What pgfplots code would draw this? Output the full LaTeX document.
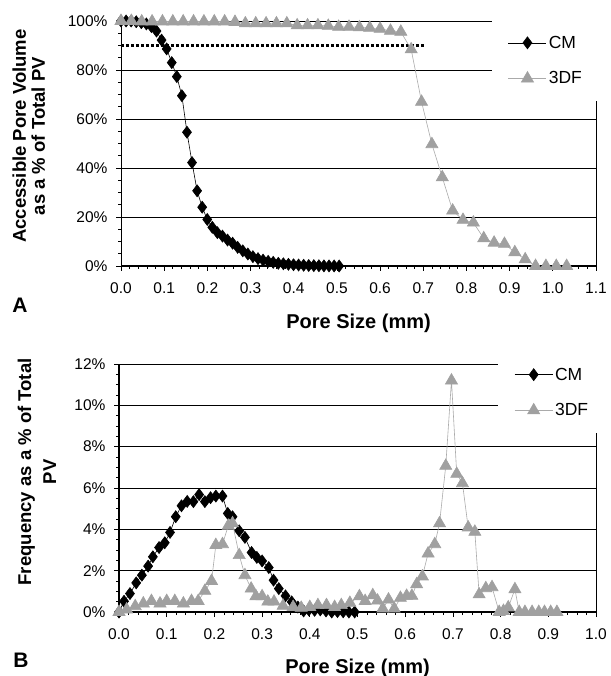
\documentclass[border=0pt]{standalone}
\usepackage{fontspec}
\setmainfont{Liberation Sans}
\usepackage{pgfplots}
\pgfplotsset{compat=1.18}
\definecolor{tri}{RGB}{160,160,160}
\definecolor{triline}{RGB}{170,170,170}

\pgfplotstableread{
x y
0 100
0.01175 100
0.0235 100
0.03525 99.7
0.047 99.3
0.05875 98.8
0.0705 97.7
0.08225 95.9
0.094 92.2
0.10575 88.6
0.1175 83.0
0.12925 77.3
0.141 69.5
0.15275 54.6
0.1645 42.2
0.17625 30.7
0.188 24.0
0.19975 19.0
0.2115 15.8
0.22325 13.6
0.235 12.2
0.24675 10.6
0.2585 9.3
0.27025 7.6
0.282 6.2
0.29375 4.9
0.3055 3.8
0.31725 3.0
0.329 2.4
0.34075 1.9
0.3525 1.5
0.36425 1.1
0.376 0.9
0.38775 0.7
0.3995 0.5
0.41125 0.4
0.423 0.3
0.43475 0.2
0.4465 0.15
0.45825 0.1
0.47 0.05
0.48175 0.03
0.4935 0.01
0.50525 0
}\cmA

\pgfplotstableread{
x y
0 100
0.024 100
0.048 99.8
0.072 99.8
0.096 99.8
0.12 99.8
0.144 99.8
0.168 99.8
0.192 99.8
0.216 99.8
0.24 99.8
0.264 99.6
0.288 99.0
0.312 99.0
0.336 99.0
0.36 99.0
0.384 99.0
0.408 98.2
0.432 98.2
0.456 98.2
0.48 98.0
0.504 97.6
0.528 97.6
0.552 97.4
0.576 97.2
0.6 96.8
0.624 96.0
0.648 95.6
0.672 88.4
0.696 67.0
0.72 49.7
0.744 36.2
0.768 22.6
0.792 18.8
0.816 17.7
0.84 11.3
0.864 9.5
0.888 9.0
0.912 5.6
0.936 2.7
0.96 0
0.984 0
1.008 0
1.032 0
}\dfA

\pgfplotstableread{
x y
0 0
0.0105 0.52
0.023 0.89
0.036 1.41
0.048 1.78
0.061 2.22
0.071 2.67
0.084 3.12
0.096 3.35
0.107 3.85
0.119 4.61
0.131 5.14
0.143 5.35
0.156 5.34
0.168 5.68
0.180 5.34
0.192 5.53
0.203 5.61
0.217 5.61
0.228 4.77
0.238 4.61
0.252 3.93
0.264 3.61
0.278 2.88
0.289 2.64
0.300 2.47
0.314 2.15
0.324 1.54
0.335 1.13
0.349 0.78
0.362 0.49
0.375 0.24
0.387 0.05
0.398 0.10
0.410 0.08
0.422 0.10
0.434 0.05
0.446 0
0.458 0.02
0.470 0.01
0.482 0
0.494 0
}\cmB

\pgfplotstableread{
x y
0 0
0.016 0.12
0.034 0.28
0.051 0.41
0.068 0.53
0.086 0.41
0.100 0.53
0.117 0.53
0.135 0.41
0.152 0.53
0.166 0.53
0.180 1.02
0.194 1.50
0.203 3.24
0.217 3.28
0.229 4.17
0.238 4.29
0.252 2.75
0.264 1.78
0.277 1.13
0.287 0.76
0.300 0.76
0.312 0.50
0.325 0.50
0.344 0.30
0.365 0.24
0.382 0.20
0.400 0.24
0.417 0.33
0.435 0.33
0.452 0.24
0.466 0.33
0.484 0.44
0.504 0.76
0.516 0.53
0.532 0.81
0.542 0.55
0.553 0.16
0.565 0.60
0.577 0.16
0.590 0.68
0.603 0.78
0.614 0.78
0.624 1.34
0.636 1.72
0.648 2.83
0.662 3.28
0.672 4.29
0.685 7.07
0.697 11.2
0.708 6.68
0.720 6.23
0.732 4.09
0.746 3.88
0.755 0.85
0.769 1.15
0.782 1.20
0.797 0
0.806 0.05
0.816 0.22
0.830 1.10
0.839 0
0.851 0
0.866 0
0.880 0
0.892 0
0.905 0
0.918 0
}\dfB

\pgfplotsset{
  mystyle/.style={
    scale only axis,
    clip=false,
    tick align=outside,
    xtick pos=bottom, ytick pos=left,
    major tick length=5pt, minor tick length=3pt,
    every tick/.style={black, line width=0.7pt},
    axis line style={black, line width=0.6pt},
    ymajorgrids,
    major grid style={black, line width=0.6pt},
    minor x tick num=4, minor y tick num=3,
    /pgf/number format/assume math mode=true,
    tick label style={font=\fontsize{15.5}{18}\selectfont},
    xticklabel style={yshift=-8pt, /pgf/number format/.cd, fixed, fixed zerofill, precision=1},
    yticklabel style={xshift=-5pt},
    yticklabel={\pgfmathprintnumber{\tick}\%},
    legend cell align=left,
    legend style={draw=none, fill=white, inner xsep=16pt, inner ysep=14pt,
      row sep=18pt, font=\fontsize{17.5}{20}\selectfont, anchor=north west},
    legend image code/.code={\draw[mark repeat=2,mark phase=2,##1] plot coordinates {(0pt,0pt) (19pt,0pt) (38pt,0pt)};},
    xlabel style={font=\bfseries\fontsize{20}{24}\selectfont},
    ylabel style={font=\bfseries\fontsize{18.5}{21}\selectfont, align=center},
  },
  cmstyle/.style={black, line width=0.6pt, mark=diamond*, mark size=6pt, mark options={solid, fill=black, draw=black}},
  dfstyle/.style={triline, line width=0.6pt, mark=triangle*, mark size=7pt, mark options={solid, fill=tri, draw=tri}},
}

\begin{document}
\begin{tikzpicture}[x=1pt,y=1pt]
\useasboundingbox (0,0) rectangle (610,676);
\begin{axis}[mystyle,
  at={(121pt,410pt)}, anchor=south west,
  width=475pt, height=245pt,
  xmin=0, xmax=1.1, ymin=0, ymax=100,
  xtick={0,0.1,0.2,0.3,0.4,0.5,0.6,0.7,0.8,0.9,1.0,1.1},
  ytick={0,20,40,60,80,100},
  xlabel={Pore Size (mm)},
  xlabel style={at={(axis description cs:0.5,0)}, anchor=center, yshift=-57pt},
  ylabel={Accessible Pore Volume\\[-2pt]as a \% of Total PV},
  ylabel style={at={(axis description cs:-0.194,0.53)}, anchor=center},
  legend style={at={(axis description cs:0.781,1.005)}},
]
\addplot[black, line width=3pt, dash pattern=on 3pt off 2pt, forget plot] coordinates {(0,90) (0.704,90)};
\addplot[cmstyle] table[x=x,y=y] {\cmA};
\addlegendentry{CM}
\addplot[dfstyle] table[x=x,y=y] {\dfA};
\addlegendentry{3DF}
\draw[black, line width=1.3pt] (rel axis cs:0,0) -- (rel axis cs:1,0);
\draw[black, line width=1.0pt] (rel axis cs:0,0) -- (rel axis cs:0,1);
\end{axis}

\begin{axis}[mystyle,
  at={(119pt,64pt)}, anchor=south west,
  width=477pt, height=248pt,
  xmin=0, xmax=1.0, ymin=0, ymax=12,
  xtick={0,0.1,0.2,0.3,0.4,0.5,0.6,0.7,0.8,0.9,1.0},
  ytick={0,2,4,6,8,10,12},
  xlabel={Pore Size (mm)},
  xlabel style={at={(axis description cs:0.5,0)}, anchor=center, yshift=-56pt},
  ylabel={Frequency as a \% of Total\\[4pt]PV},
  ylabel style={at={(axis description cs:-0.172,0.565)}, anchor=center},
  legend style={at={(axis description cs:0.795,1.05)}},
]
\addplot[cmstyle] table[x=x,y=y] {\cmB};
\addlegendentry{CM}
\addplot[dfstyle] table[x=x,y=y] {\dfB};
\addlegendentry{3DF}
\draw[black, line width=1.3pt] (rel axis cs:0,0) -- (rel axis cs:1,0);
\draw[black, line width=1.3pt] (rel axis cs:0,0) -- (rel axis cs:0,1);
\end{axis}

\node[font=\bfseries\fontsize{21}{24}\selectfont] at (20,371) {A};
\node[font=\bfseries\fontsize{21}{24}\selectfont] at (21,16) {B};
\end{tikzpicture}
\end{document}
